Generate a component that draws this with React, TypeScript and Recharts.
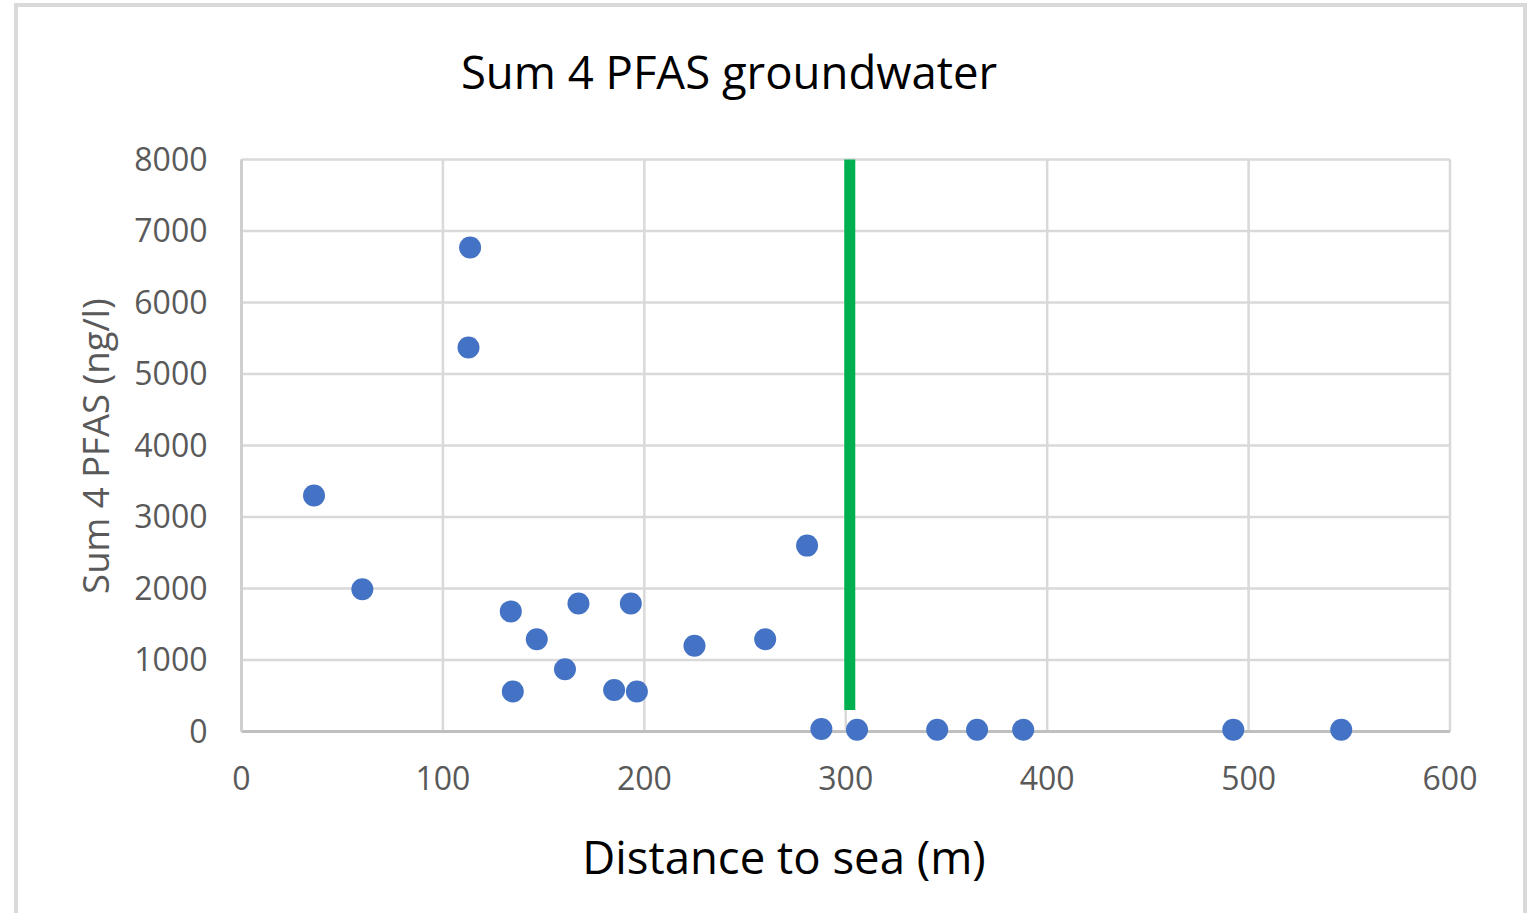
import React from 'react';
import { ScatterChart, Scatter, XAxis, YAxis, CartesianGrid, ReferenceLine } from 'recharts';

// Distance to sea (m) for each groundwater sample
const distances = [36, 60, 113.5, 112.7, 133.7, 134.7, 146.6, 160.6, 167.3, 185, 193.3, 196.3, 224.9, 260, 280.8, 287.9, 305.6, 345.4, 365.2, 388.1, 492.4, 546];
// Sum of 4 PFAS (ng/l) for the same samples
const pfasSums = [3300, 1990, 6770, 5370, 1680, 560, 1290, 870, 1790, 580, 1790, 560, 1200, 1290, 2600, 35, 25, 25, 25, 25, 25, 25];

const xTicks = [0, 100, 200, 300, 400, 500, 600];
const yTicks = [0, 1000, 2000, 3000, 4000, 5000, 6000, 7000, 8000];

// Vertical marker line
const markerDistance = 302;
const markerFrom = 300;
const markerTo = 8000;

const points = distances.map((d, i) => ({ x: d, y: pfasSums[i] }));

const FONT = '"Open Sans", "Noto Sans", sans-serif';

const Dot = (p: any) => <circle cx={p.cx} cy={p.cy} r={11} fill="#4472C4" />;

export default function App() {
  return (
    <div
      style={{
        position: 'absolute',
        left: 0,
        top: 0,
        width: 1537,
        height: 913,
        overflow: 'hidden',
        background: '#ffffff',
        fontFamily: FONT,
      }}
    >
      <div
        style={{
          position: 'absolute',
          left: 14,
          top: 3,
          width: 1513,
          height: 1000,
          border: '4px solid #d9d9d9',
          boxSizing: 'border-box',
        }}
      />
      <div style={{ position: 'absolute', left: 0, top: 0 }}>
        <ScatterChart
          width={1537}
          height={913}
          margin={{ top: 159.5, right: 87, bottom: 121.5, left: 161.5 }}
        >
          <CartesianGrid stroke="#d9d9d9" strokeWidth={2.5} />
          <XAxis
            type="number"
            dataKey="x"
            domain={[0, 600]}
            ticks={xTicks}
            interval={0}
            height={60}
            tickLine={false}
            tickSize={0}
            tickMargin={35.5}
            axisLine={{ stroke: '#bfbfbf', strokeWidth: 3 }}
            tick={{ fill: '#595959', fontSize: 32, fontFamily: FONT }}
          />
          <YAxis
            type="number"
            dataKey="y"
            domain={[0, 8000]}
            ticks={yTicks}
            interval={0}
            width={80}
            tickLine={false}
            tickSize={0}
            tickMargin={34}
            axisLine={{ stroke: '#cfcfcf', strokeWidth: 3 }}
            tick={{ fill: '#595959', fontSize: 32, fontFamily: FONT }}
          />
          <ReferenceLine
            segment={[
              { x: markerDistance, y: markerFrom },
              { x: markerDistance, y: markerTo },
            ]}
            stroke="#00B050"
            strokeWidth={11}
          />
          <Scatter data={points} shape={Dot} isAnimationActive={false} />
        </ScatterChart>
      </div>
      <div
        style={{
          position: 'absolute',
          left: 329,
          top: 49,
          width: 800,
          height: 45,
          lineHeight: '45px',
          fontSize: 45.5,
          textAlign: 'center',
          color: '#000000',
          whiteSpace: 'nowrap',
        }}
      >
        Sum 4 PFAS groundwater
      </div>
      <div
        style={{
          position: 'absolute',
          left: 384,
          top: 834,
          width: 800,
          height: 45,
          lineHeight: '45px',
          fontSize: 45.5,
          textAlign: 'center',
          color: '#000000',
          whiteSpace: 'nowrap',
        }}
      >
        Distance to sea (m)
      </div>
      <div
        style={{
          position: 'absolute',
          left: -105,
          top: 427.5,
          width: 400,
          height: 36,
          lineHeight: '36px',
          fontSize: 36.5,
          textAlign: 'center',
          color: '#595959',
          whiteSpace: 'nowrap',
          transform: 'rotate(-90deg)',
        }}
      >
        Sum 4 PFAS (ng/l)
      </div>
    </div>
  );
}
